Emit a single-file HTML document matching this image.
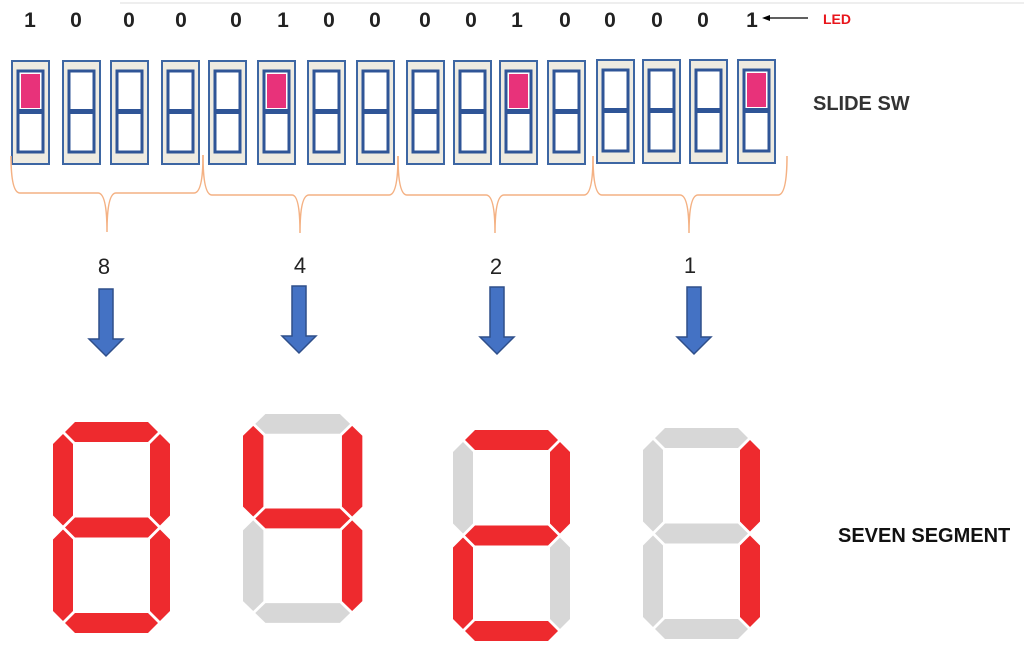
<!DOCTYPE html>
<html><head><meta charset="utf-8"><style>
html,body{margin:0;padding:0;background:#fff;}
svg{display:block;}
text{font-family:"Liberation Sans",sans-serif;}
.on{fill:#ee2a2e;}
.off{fill:#d7d7d7;}
</style></head><body>
<svg width="1024" height="654" viewBox="0 0 1024 654" xmlns="http://www.w3.org/2000/svg">
<defs>
<g id="sw">
  <rect x="0" y="0" width="37" height="103" fill="#eeebe1" stroke="#3d66a3" stroke-width="2"/>
  <rect x="6" y="10" width="25" height="81" fill="#fff" stroke="#2f5597" stroke-width="3"/>
  <rect x="7.5" y="48" width="22" height="5" fill="#2f5597"/>
</g>
<g id="red"><rect x="9" y="13" width="19" height="34" fill="#e8327a"/></g>
<g id="ar">
  <polygon points="-7,0 7,0 7,50 17,50 0,67 -17,50 -7,50" fill="#4472c4" stroke="#2f4f8a" stroke-width="1.5"/>
</g>
</defs>
<line x1="120" y1="3" x2="1024" y2="3" stroke="#eee" stroke-width="2"/>
<g font-size="21" font-weight="bold" fill="#222" text-anchor="middle">
<text x="30" y="27">1</text><text x="76" y="27">0</text><text x="129" y="27">0</text><text x="181" y="27">0</text>
<text x="236" y="27">0</text><text x="283" y="27">1</text><text x="329" y="27">0</text><text x="375" y="27">0</text>
<text x="425" y="27">0</text><text x="471" y="27">0</text><text x="517" y="27">1</text><text x="565" y="27">0</text>
<text x="610" y="27">0</text><text x="657" y="27">0</text><text x="703" y="27">0</text><text x="752" y="27">1</text>
</g>
<line x1="766" y1="18" x2="808" y2="18" stroke="#000" stroke-width="1.2"/>
<polygon points="762,18 770,15 770,21" fill="#000"/>
<text x="823" y="24" font-size="14" font-weight="bold" fill="#e8151b">LED</text>
<text x="813" y="110" font-size="20" font-weight="bold" fill="#333">SLIDE SW</text>
<text x="838" y="542" font-size="20" font-weight="bold" fill="#111">SEVEN SEGMENT</text>

<use href="#sw" x="12" y="61"/><use href="#red" x="12" y="61"/>
<use href="#sw" x="63" y="61"/><use href="#sw" x="111" y="61"/><use href="#sw" x="162" y="61"/>
<use href="#sw" x="209" y="61"/><use href="#sw" x="258" y="61"/><use href="#red" x="258" y="61"/>
<use href="#sw" x="308" y="61"/><use href="#sw" x="357" y="61"/>
<use href="#sw" x="407" y="61"/><use href="#sw" x="454" y="61"/><use href="#sw" x="500" y="61"/><use href="#red" x="500" y="61"/><use href="#sw" x="548" y="61"/>
<use href="#sw" x="597" y="60"/><use href="#sw" x="643" y="60"/><use href="#sw" x="690" y="60"/><use href="#sw" x="738" y="60"/><use href="#red" x="738" y="60"/>

<g fill="none" stroke="#f4b183" stroke-width="1.5">
<path d="M11,156 Q11,193 20,193 L98,193 Q107,193 107,232 Q107,193 116,193 L194,193 Q203,193 203,155"/>
<path d="M203,155 Q203,195 212,195 L292,195 Q300,195 300,233 Q300,195 309,195 L389,195 Q398,195 398,156"/>
<path d="M398,156 Q398,195 407,195 L486,195 Q495,195 495,233 Q495,195 504,195 L584,195 Q593,195 593,156"/>
<path d="M593,156 Q593,195 602,195 L680,195 Q689,195 689,233 Q689,195 698,195 L778,195 Q787,195 787,156"/>
</g>
<g font-size="22" fill="#222" text-anchor="middle">
<text x="104" y="274">8</text><text x="300" y="273">4</text><text x="496" y="274">2</text><text x="690" y="273">1</text>
</g>
<use href="#ar" x="106" y="289"/><use href="#ar" x="299" y="286"/><use href="#ar" x="497" y="287"/><use href="#ar" x="694" y="287"/>

<!-- digit 8 -->
<g transform="translate(53,422)">
<polygon class="on" points="12,10 22,0 95,0 105,10 95,20 22,20"/>
<polygon class="on" points="12,105.5 22,95.5 95,95.5 105,105.5 95,115.5 22,115.5"/>
<polygon class="on" points="12,201 22,191 95,191 105,201 95,211 22,211"/>
<polygon class="on" points="10,12 20,22 20,93.5 10,103.5 0,93.5 0,22"/>
<polygon class="on" points="107,12 117,22 117,93.5 107,103.5 97,93.5 97,22"/>
<polygon class="on" points="10,107.5 20,117.5 20,189 10,199 0,189 0,117.5"/>
<polygon class="on" points="107,107.5 117,117.5 117,189 107,199 97,189 97,117.5"/>
</g>
<!-- digit 4 -->
<g transform="translate(243,414) scale(1.02,0.99)">
<polygon class="off" points="12,10 22,0 95,0 105,10 95,20 22,20"/>
<polygon class="on" points="12,105.5 22,95.5 95,95.5 105,105.5 95,115.5 22,115.5"/>
<polygon class="off" points="12,201 22,191 95,191 105,201 95,211 22,211"/>
<polygon class="on" points="10,12 20,22 20,93.5 10,103.5 0,93.5 0,22"/>
<polygon class="on" points="107,12 117,22 117,93.5 107,103.5 97,93.5 97,22"/>
<polygon class="off" points="10,107.5 20,117.5 20,189 10,199 0,189 0,117.5"/>
<polygon class="on" points="107,107.5 117,117.5 117,189 107,199 97,189 97,117.5"/>
</g>
<!-- digit 2 -->
<g transform="translate(453,430)">
<polygon class="on" points="12,10 22,0 95,0 105,10 95,20 22,20"/>
<polygon class="on" points="12,105.5 22,95.5 95,95.5 105,105.5 95,115.5 22,115.5"/>
<polygon class="on" points="12,201 22,191 95,191 105,201 95,211 22,211"/>
<polygon class="off" points="10,12 20,22 20,93.5 10,103.5 0,93.5 0,22"/>
<polygon class="on" points="107,12 117,22 117,93.5 107,103.5 97,93.5 97,22"/>
<polygon class="on" points="10,107.5 20,117.5 20,189 10,199 0,189 0,117.5"/>
<polygon class="off" points="107,107.5 117,117.5 117,189 107,199 97,189 97,117.5"/>
</g>
<!-- digit 1 -->
<g transform="translate(643,428)">
<polygon class="off" points="12,10 22,0 95,0 105,10 95,20 22,20"/>
<polygon class="off" points="12,105.5 22,95.5 95,95.5 105,105.5 95,115.5 22,115.5"/>
<polygon class="off" points="12,201 22,191 95,191 105,201 95,211 22,211"/>
<polygon class="off" points="10,12 20,22 20,93.5 10,103.5 0,93.5 0,22"/>
<polygon class="on" points="107,12 117,22 117,93.5 107,103.5 97,93.5 97,22"/>
<polygon class="off" points="10,107.5 20,117.5 20,189 10,199 0,189 0,117.5"/>
<polygon class="on" points="107,107.5 117,117.5 117,189 107,199 97,189 97,117.5"/>
</g>
</svg>
</body></html>
